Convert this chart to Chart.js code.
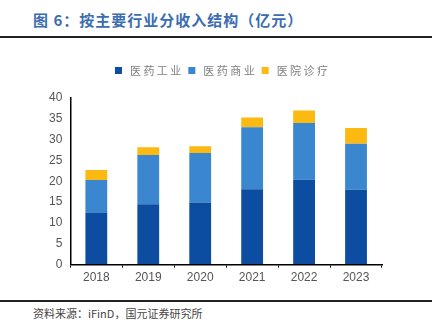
<!DOCTYPE html>
<html>
<head>
<meta charset="utf-8">
<script src="https://cdn.jsdelivr.net/npm/chart.js@4"></script>
<style>
  body { margin: 0; width: 447px; height: 331px; background: #fff; position: relative; overflow: hidden; font-family: "Noto Sans CJK SC", sans-serif; }
  .title { position: absolute; left: 33px; top: 9px; font-size: 15px; font-weight: bold; color: #3c6db0; letter-spacing: 1px; }
  .line { position: absolute; left: 0; width: 432px; height: 2px; background: #222; }
  .source { position: absolute; left: 33px; top: 305px; font-size: 11px; color: #444; }
  #wrap { position: absolute; left: 0; top: 58px; width: 440px; height: 230px; }
</style>
</head>
<body>
<div class="title">图 6：按主要行业分收入结构（亿元）</div>
<div class="line" style="top:36px"></div>
<div id="wrap"><canvas id="barChart"></canvas></div>
<div class="line" style="top:300px"></div>
<div class="source">资料来源：iFinD，国元证券研究所</div>
<script>
const years = ['2018', '2019', '2020', '2021', '2022', '2023'];
const industry = [12.4, 14.5, 14.9, 18.1, 20.4, 18.0];   // 医药工业
const commerce = [7.9, 11.8, 11.9, 14.9, 13.6, 11.0];    // 医药商业
const medical = [2.4, 1.9, 1.6, 2.3, 3.0, 3.8];          // 医院诊疗
const yTicks = [0, 5, 10, 15, 20, 25, 30, 35, 40];

const ctx = document.getElementById('barChart');

// push the plot down below the legend, and nudge legend right a bit
const legendGap = {
  id: 'legendGap',
  beforeInit(chart) {
    const fit = chart.legend.fit;
    chart.legend.fit = function () {
      fit.bind(chart.legend)();
      this.height += 12;
    };
  },
  afterLayout(chart) {
    chart.legend.left += 10;
    chart.legend.right += 10;
  }
};

new Chart(ctx, {
  type: 'bar',
  data: {
    labels: years,
    datasets: [{
      label: ' 医 药 工 业',
      data: industry,
      backgroundColor: '#0c4da2'
    }, {
      label: ' 医 药 商 业',
      data: commerce,
      backgroundColor: '#3a87cf'
    }, {
      label: ' 医 院 诊 疗',
      data: medical,
      backgroundColor: '#fbb912'
    }]
  },
  options: {
    responsive: true,
    maintainAspectRatio: false,
    animation: false,
    layout: { padding: { left: 41, right: 58, top: 0, bottom: 0 } },
    datasets: { bar: { categoryPercentage: 1, barPercentage: 0.42 } },
    plugins: {
      legend: {
        position: 'top',
        labels: {
          boxWidth: 7, boxHeight: 7, padding: 7,
          color: '#808080',
          font: { size: 11, family: '"Noto Sans CJK SC"' }
        }
      },
      tooltip: { enabled: false }
    },
    scales: {
      x: {
        stacked: true,
        border: { color: '#000', width: 1.5 },
        grid: { drawOnChartArea: false, drawTicks: true, tickLength: 3, color: '#000' },
        ticks: { color: '#555', font: { size: 12, family: 'Liberation Sans' }, padding: 3 }
      },
      y: {
        stacked: true,
        min: 0, max: 40,
        afterBuildTicks: axis => { axis.ticks = yTicks.map(v => ({ value: v })); },
        border: { color: '#000', width: 1.5 },
        grid: { drawOnChartArea: false, drawTicks: false },
        ticks: { color: '#555', font: { size: 12, family: 'Liberation Sans' }, padding: 8 }
      }
    }
  },
  plugins: [legendGap]
});
</script>
</body>
</html>
